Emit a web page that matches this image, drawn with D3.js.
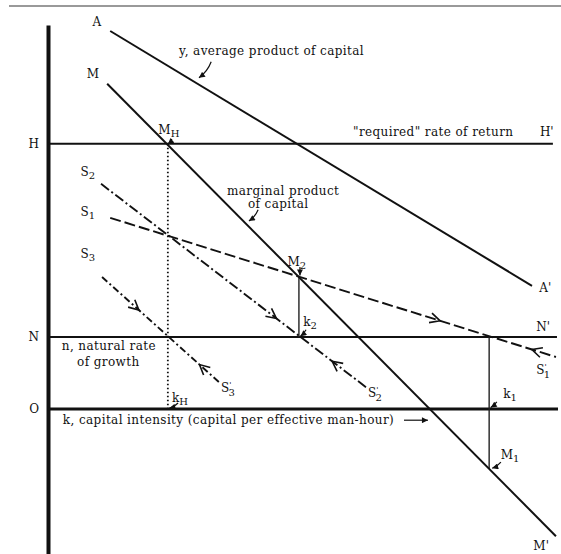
<!DOCTYPE html>
<html>
<head>
<meta charset="utf-8">
<script src="https://cdn.jsdelivr.net/npm/d3@7"></script>
<style>
body { margin: 0; background: #fff; }
text { font-family: "DejaVu Serif", serif; fill: #111; }
</style>
</head>
<body>
<script>
// rate levels on the vertical axis
var levelNames = ['H', 'N', 'O'];
var levelValues = [6.63, 1.8, 0];
var levelEnds = [9.9, 9.98, 10];

// curves: start and end as [k, rate]
var curveNames = ['A', 'M', 'S1', 'S2', 'S3'];
var curveStarts = [[1.22, 9.45], [1.16, 8.13], [1.22, 4.78], [1.04, 5.63], [1.06, 3.30]];
var curveEnds = [[9.49, 3.08], [9.96, -3.18], [9.96, 1.30], [6.25, 0.53], [3.39, 0.63]];

// direction arrows along the S paths (fraction along curve, direction)
var arrowCurves = ['S1', 'S1', 'S2', 'S2', 'S3', 'S3'];
var arrowT = [0.74, 0.946, 0.66, 0.87, 0.31, 0.82];
var arrowDir = [1, -1, 1, -1, 1, -1];

// vertical drops: k, top rate, bottom rate
var dropNames = ['kH', 'k2', 'k1'];
var dropK = [2.35, 4.92, 8.65];
var dropTop = [6.63, 3.3, 1.8];
var dropBottom = [0, 1.8, -1.5];

// point labels: [main, sub, prime] at [k, rate]
var pointLabels = [
    ['A', '', ''], ['M', '', ''], ["A'", '', ''], ["M'", '', ''], ["H'", '', ''], ["N'", '', ''],
    ['M', 'H', ''], ['M', '2', ''], ['k', '2', ''], ['k', 'H', ''], ['k', '1', ''], ['M', '1', ''],
    ['S', '2', ''], ['S', '1', ''], ['S', '3', ''], ['S', '3', "'"], ['S', '2', "'"], ['S', '1', "'"]
];
var pointLabelPos = [
    [0.96, 9.68], [0.88, 8.38], [9.75, 3.03], [9.67, -3.42], [9.78, 6.93], [9.71, 2.05],
    [2.37, 6.97], [4.88, 3.68], [5.14, 2.18], [2.59, 0.28], [9.06, 0.38], [9.06, -1.15],
    [0.78, 5.93], [0.78, 4.93], [0.78, 3.88], [3.53, 0.53], [6.41, 0.4], [9.71, 0.98]
];

// captions, left aligned at [k, rate] baseline
var captions = ['y, average product of capital', '"required" rate of return', 'marginal product',
    'of capital', 'n, natural rate', 'of growth', 'k, capital intensity (capital per effective man-hour)'];
var captionPos = [[2.57, 8.85], [5.98, 6.83], [3.51, 5.35], [3.92, 5.03], [0.27, 1.48], [0.57, 1.08], [0.29, -0.38]];

// little pointer arrows: from, to, bend
var pointerFrom = [[3.2, 8.68], [4.12, 4.98], [2.43, 6.75], [4.94, 3.55], [5.06, 1.98], [2.55, 0.15], [8.8, 0.18], [8.88, -1.33], [6.98, -0.28]];
var pointerTo = [[2.96, 8.28], [3.94, 4.7], [2.35, 6.62], [4.94, 3.34], [4.95, 1.82], [2.38, 0.02], [8.68, 0.04], [8.71, -1.48], [7.45, -0.28]];
var pointerBend = [0.15, 0.15, 0.1, 0, 0.1, 0.15, 0.1, 0.15, 0];

var W = 561, H = 554;
var svg = d3.select('body').append('svg').attr('width', W).attr('height', H);

var x = d3.scaleLinear().domain([0, 10]).range([48, 558]);
var y = d3.scaleLinear().domain([-3.625, 9.6]).range([554, 25]);

// scan page edge on top
svg.append('line')
    .attr('x1', 9).attr('x2', W).attr('y1', 6).attr('y2', 6)
    .attr('stroke', '#777').attr('stroke-width', 1.5);

var defs = svg.append('defs');
defs.append('marker')
    .attr('id', 'tip').attr('viewBox', '0 -4 8 8')
    .attr('refX', 8).attr('refY', 0)
    .attr('markerUnits', 'userSpaceOnUse')
    .attr('markerWidth', 7).attr('markerHeight', 6)
    .attr('orient', 'auto')
    .append('path').attr('d', 'M0,-4L8,0L0,4Z').attr('fill', '#111');

var g = svg.append('g');

// vertical axis with H, N, O
var yAxis = g.append('g')
    .attr('transform', 'translate(' + x(0) + ',0)')
    .call(d3.axisLeft(y).tickValues(levelValues).tickSize(0).tickPadding(9)
        .tickFormat(function (d, i) { return levelNames[i]; }));
yAxis.select('.domain').attr('stroke', '#111').attr('stroke-width', 4);
yAxis.selectAll('text')
    .style('font-family', '"DejaVu Serif", serif').style('font-size', '12px').attr('fill', '#111');

// level lines
levelValues.forEach(function (v, i) {
    g.append('line')
        .attr('x1', x(0)).attr('x2', x(levelEnds[i]))
        .attr('y1', y(v)).attr('y2', y(v))
        .attr('stroke', '#111')
        .attr('stroke-width', levelNames[i] === 'O' ? 3 : 2);
});

// vertical drops
dropNames.forEach(function (n, i) {
    g.append('line')
        .attr('x1', x(dropK[i])).attr('x2', x(dropK[i]))
        .attr('y1', y(dropTop[i])).attr('y2', y(dropBottom[i]))
        .attr('stroke', n === 'kH' ? '#111' : '#222')
        .attr('stroke-width', n === 'kH' ? 1.8 : 1.4)
        .attr('stroke-dasharray', n === 'kH' ? '1.5,2.5' : null);
});

var dashes = { A: null, M: null, S1: '11,4', S2: '10,3,2,3', S3: '7,3,2,3' };
curveNames.forEach(function (n, i) {
    g.append('line')
        .attr('x1', x(curveStarts[i][0])).attr('y1', y(curveStarts[i][1]))
        .attr('x2', x(curveEnds[i][0])).attr('y2', y(curveEnds[i][1]))
        .attr('stroke', '#111')
        .attr('stroke-width', n[0] === 'S' ? 1.9 : 2)
        .attr('stroke-dasharray', dashes[n]);
});

// open chevrons along S paths
arrowCurves.forEach(function (n, i) {
    var c = curveNames.indexOf(n);
    var p0 = [x(curveStarts[c][0]), y(curveStarts[c][1])];
    var p1 = [x(curveEnds[c][0]), y(curveEnds[c][1])];
    var t = arrowT[i];
    var px = p0[0] + (p1[0] - p0[0]) * t, py = p0[1] + (p1[1] - p0[1]) * t;
    var ang = Math.atan2(p1[1] - p0[1], p1[0] - p0[0]) * 180 / Math.PI + (arrowDir[i] < 0 ? 180 : 0);
    g.append('path')
        .attr('transform', 'translate(' + px + ',' + py + ') rotate(' + ang + ')')
        .attr('d', 'M-10,-5L0,0L-10,5')
        .attr('fill', 'none').attr('stroke', '#111').attr('stroke-width', 1.6);
});

// pointers
pointerFrom.forEach(function (f, i) {
    var a = [x(f[0]), y(f[1])], b = [x(pointerTo[i][0]), y(pointerTo[i][1])];
    var k = pointerBend[i];
    var mx = (a[0] + b[0]) / 2 + (b[1] - a[1]) * k, my = (a[1] + b[1]) / 2 - (b[0] - a[0]) * k;
    g.append('path')
        .attr('d', 'M' + a[0] + ',' + a[1] + 'Q' + mx + ',' + my + ' ' + b[0] + ',' + b[1])
        .attr('fill', 'none').attr('stroke', '#111').attr('stroke-width', 1.2)
        .attr('marker-end', 'url(#tip)');
});

// point labels
pointLabels.forEach(function (l, i) {
    var t = g.append('text')
        .attr('x', x(pointLabelPos[i][0])).attr('y', y(pointLabelPos[i][1]))
        .attr('text-anchor', 'middle').attr('dominant-baseline', 'central')
        .style('font-size', '12px');
    t.append('tspan').text(l[0]);
    if (l[2]) {
        t.append('tspan').attr('dy', -4).style('font-size', '8px').text(l[2]);
        t.append('tspan').attr('dx', -3).attr('dy', 8).style('font-size', '10px').text(l[1]);
    } else if (l[1]) {
        t.append('tspan').attr('dy', 3).style('font-size', '10px').text(l[1]);
    }
});

// captions
captions.forEach(function (c, i) {
    g.append('text')
        .attr('x', x(captionPos[i][0])).attr('y', y(captionPos[i][1]))
        .style('font-size', '12px')
        .style('letter-spacing', '0.4px')
        .text(c);
});
</script>
</body>
</html>
